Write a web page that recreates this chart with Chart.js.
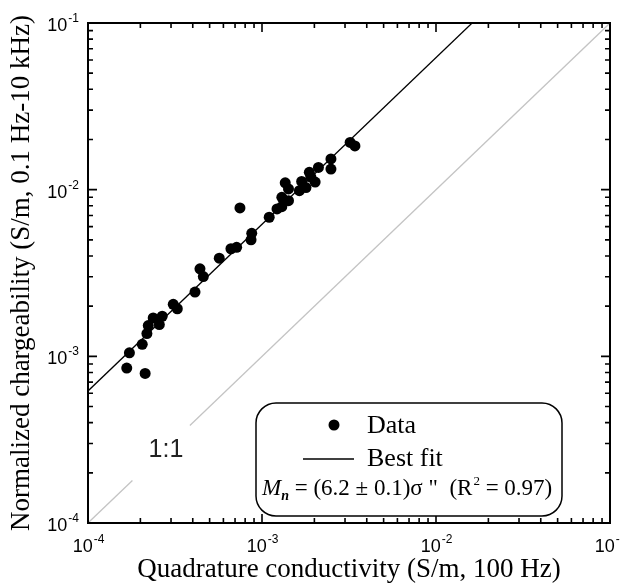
<!DOCTYPE html>
<html>
<head>
<meta charset="utf-8">
<script src="https://cdn.jsdelivr.net/npm/chart.js@4.4.0/dist/chart.umd.min.js"></script>
<style>
html, body { margin: 0; padding: 0; background: #fff; }
#wrap { width: 620px; height: 586px; }
</style>
</head>
<body>
<div id="wrap"><canvas id="chart" width="620" height="586"></canvas></div>
<script>
// Quadrature conductivity at 100 Hz (S/m)
const sigmaQuad = [
    1.67e-4, 2.13e-4, 1.73e-4, 2.05e-4, 2.18e-4, 2.22e-4, 2.37e-4, 2.57e-4,
    2.67e-4, 3.09e-4, 3.26e-4, 4.12e-4, 4.40e-4, 4.60e-4, 5.68e-4, 6.63e-4,
    7.15e-4, 7.47e-4, 8.65e-4, 8.73e-4, 1.10e-3, 1.22e-3, 1.30e-3, 1.30e-3,
    1.36e-3, 1.42e-3, 1.42e-3, 1.64e-3, 1.69e-3, 1.79e-3, 1.87e-3, 1.91e-3,
    2.02e-3, 2.11e-3, 2.49e-3, 2.49e-3, 3.21e-3, 3.42e-3
];
// Normalized chargeability, 0.1 Hz - 10 kHz (S/m)
const chargeability = [
    8.5e-4, 7.9e-4, 1.05e-3, 1.18e-3, 1.37e-3, 1.53e-3, 1.70e-3, 1.55e-3,
    1.74e-3, 2.05e-3, 1.93e-3, 2.43e-3, 3.35e-3, 3.01e-3, 3.88e-3, 4.42e-3,
    4.51e-3, 7.77e-3, 5.00e-3, 5.47e-3, 6.83e-3, 7.66e-3, 7.91e-3, 8.99e-3,
    1.10e-2, 1.01e-2, 8.59e-3, 9.86e-3, 1.12e-2, 1.03e-2, 1.27e-2, 1.19e-2,
    1.11e-2, 1.36e-2, 1.53e-2, 1.33e-2, 1.92e-2, 1.83e-2
];

// Best fit Mn = 6.2 * sigma''
const fitSlope = 6.2;
const fitX = [1e-4, 2e-2];

// 1:1 line, broken where the "1:1" label sits
const oneToOneLow = [1e-4, 1.8e-4];
const oneToOneHigh = [3.85e-4, 1e-1];

// Axis decades and minor tick multipliers
const xDecades = [1e-4, 1e-3, 1e-2, 1e-1];
const yDecades = [1e-4, 1e-3, 1e-2, 1e-1];
const minorSteps = [2, 3, 4, 5, 6, 7, 8, 9];

const xTitle = 'Quadrature conductivity (S/m, 100 Hz)';
const yTitle = 'Normalized chargeability (S/m, 0.1 Hz-10 kHz)';

const serif = "'Liberation Serif', 'Times New Roman', serif";
const sans = "'Liberation Sans', Arial, sans-serif";

function pts(xs, ys) {
    return xs.map((v, i) => ({ x: v, y: ys[i] }));
}

// Draw "10" with a raised exponent
function drawPower(ctx, value, px, baseline, align) {
    const exp = String(Math.round(Math.log10(value)));
    ctx.font = '18px ' + sans;
    const wBase = ctx.measureText('10').width;
    ctx.font = '12px ' + sans;
    const wExp = ctx.measureText(exp).width;
    let left;
    if (align === 'center') left = px - (wBase + wExp) / 2;
    else left = px - wBase - wExp - 1;
    ctx.textAlign = 'left';
    ctx.textBaseline = 'alphabetic';
    ctx.font = '18px ' + sans;
    ctx.fillText('10', left, baseline);
    ctx.font = '12px ' + sans;
    ctx.fillText(exp, left + wBase + 1, baseline - 9);
}

const framePlugin = {
    id: 'frame',
    afterDraw(chart) {
        const { ctx, chartArea: a, scales: { x, y } } = chart;
        ctx.save();
        ctx.strokeStyle = '#000';
        ctx.fillStyle = '#000';

        // inward ticks on all four sides
        ctx.lineWidth = 1.6;
        function xTick(v, len) {
            const px = x.getPixelForValue(v);
            ctx.beginPath();
            ctx.moveTo(px, a.bottom); ctx.lineTo(px, a.bottom - len);
            ctx.moveTo(px, a.top); ctx.lineTo(px, a.top + len);
            ctx.stroke();
        }
        function yTick(v, len) {
            const py = y.getPixelForValue(v);
            ctx.beginPath();
            ctx.moveTo(a.left, py); ctx.lineTo(a.left + len, py);
            ctx.moveTo(a.right, py); ctx.lineTo(a.right - len, py);
            ctx.stroke();
        }
        xDecades.forEach((d, i) => {
            xTick(d, 9);
            if (i < xDecades.length - 1) minorSteps.forEach(m => xTick(d * m, 5));
        });
        yDecades.forEach((d, i) => {
            yTick(d, 9);
            if (i < yDecades.length - 1) minorSteps.forEach(m => yTick(d * m, 5));
        });

        ctx.lineWidth = 2;
        ctx.strokeRect(a.left, a.top, a.right - a.left, a.bottom - a.top);

        // tick labels
        xDecades.forEach(d => drawPower(ctx, d, x.getPixelForValue(d), a.bottom + 29, 'center'));
        yDecades.forEach(d => drawPower(ctx, d, a.left - 9, y.getPixelForValue(d) + 8, 'right'));

        // 1:1 label
        ctx.font = '25px ' + sans;
        ctx.fillStyle = '#222';
        ctx.textAlign = 'center';
        ctx.textBaseline = 'middle';
        ctx.fillText('1:1', 166, 450);

        // legend box
        ctx.lineWidth = 1.5;
        ctx.beginPath();
        ctx.roundRect(256, 403, 306, 113, 20);
        ctx.fillStyle = '#fff';
        ctx.fill();
        ctx.stroke();

        ctx.fillStyle = '#000';
        ctx.beginPath();
        ctx.arc(334, 425, 5.5, 0, Math.PI * 2);
        ctx.fill();
        ctx.lineWidth = 1.3;
        ctx.beginPath();
        ctx.moveTo(303, 459); ctx.lineTo(354, 459);
        ctx.stroke();

        ctx.textAlign = 'left';
        ctx.textBaseline = 'alphabetic';
        ctx.font = '26px ' + serif;
        ctx.fillText('Data', 367, 433);
        ctx.fillText('Best fit', 367, 466);

        // Mn = (6.2 ± 0.1)σ" (R² = 0.97)
        let cx = 262;
        const base = 495;
        ctx.font = 'italic 23px ' + serif;
        ctx.fillText('M', cx, base); cx += ctx.measureText('M').width;
        ctx.font = 'italic bold 14px ' + serif;
        ctx.fillText('n', cx, base + 5); cx += ctx.measureText('n').width;
        ctx.font = '23px ' + serif;
        const mid = ' = (6.2 \u00b1 0.1)\u03c3 "  (R';
        ctx.fillText(mid, cx, base); cx += ctx.measureText(mid).width;
        ctx.font = '13px ' + serif;
        ctx.fillText('2', cx + 1, base - 10); cx += ctx.measureText('2').width + 1;
        ctx.font = '23px ' + serif;
        ctx.fillText(' = 0.97)', cx, base);

        ctx.restore();
    }
};

new Chart(document.getElementById('chart'), {
    type: 'scatter',
    data: {
        datasets: [
            {
                label: 'Data',
                data: pts(sigmaQuad, chargeability),
                backgroundColor: '#000',
                borderWidth: 0,
                pointRadius: 5.5
            },
            {
                label: 'Best fit',
                data: pts(fitX, fitX.map(v => v * fitSlope)),
                showLine: true,
                borderColor: '#000',
                borderWidth: 1.3,
                pointRadius: 0
            },
            {
                label: '1:1',
                data: pts(oneToOneLow, oneToOneLow),
                showLine: true,
                borderColor: '#c4c4c4',
                borderWidth: 1.3,
                pointRadius: 0
            },
            {
                label: '1:1 upper',
                data: pts(oneToOneHigh, oneToOneHigh),
                showLine: true,
                borderColor: '#c4c4c4',
                borderWidth: 1.3,
                pointRadius: 0
            }
        ]
    },
    options: {
        responsive: false,
        animation: false,
        devicePixelRatio: 1,
        layout: { padding: { top: 23, right: 10, bottom: 0, left: 0 } },
        plugins: {
            legend: { display: false },
            tooltip: { enabled: false }
        },
        scales: {
            x: {
                type: 'logarithmic',
                min: 1e-4,
                max: 1e-1,
                grid: { display: false, drawTicks: false },
                border: { display: false },
                ticks: { display: false },
                title: {
                    display: true,
                    text: xTitle,
                    color: '#000',
                    font: { family: serif, size: 27 },
                    padding: { top: 30.6, bottom: 0 }
                }
            },
            y: {
                type: 'logarithmic',
                min: 1e-4,
                max: 1e-1,
                grid: { display: false, drawTicks: false },
                border: { display: false },
                ticks: { display: false },
                title: {
                    display: true,
                    text: yTitle,
                    color: '#000',
                    font: { family: serif, size: 27 },
                    padding: { top: 5.8, bottom: 49.8 }
                }
            }
        }
    },
    plugins: [framePlugin]
});
</script>
</body>
</html>
